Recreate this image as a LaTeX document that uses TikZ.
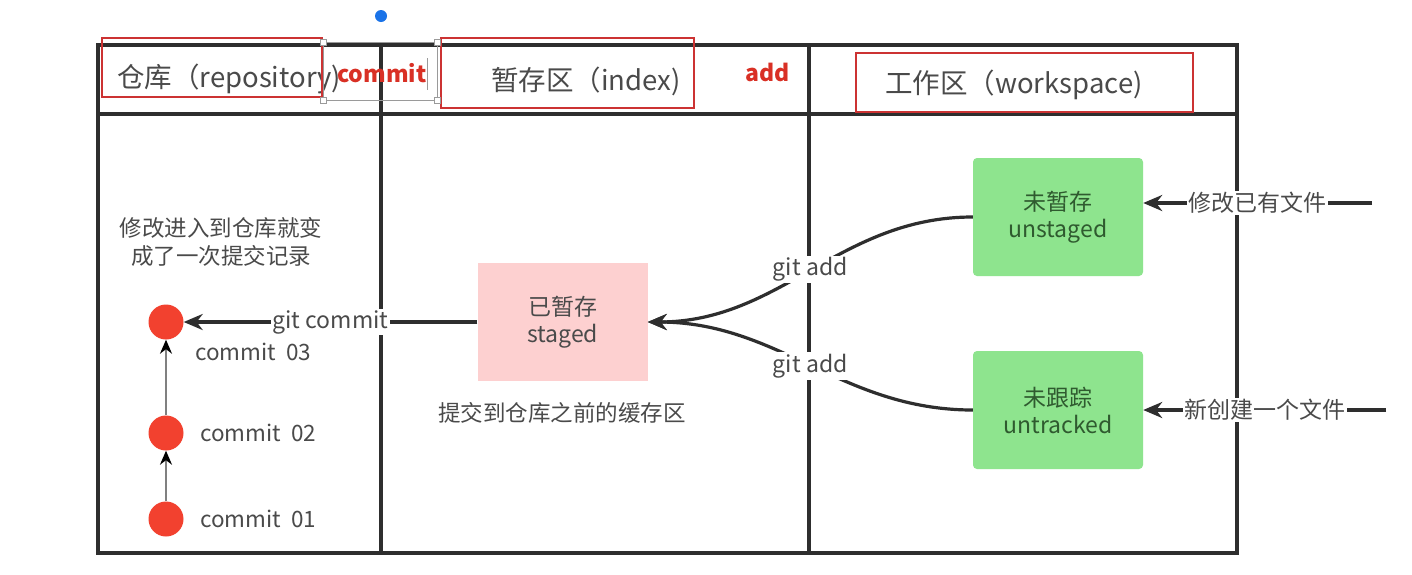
\documentclass[tikz,border=0pt]{standalone}
\usepackage{fontspec}
\setmainfont{Noto Sans CJK SC}
\usetikzlibrary{arrows.meta}
\definecolor{tline}{HTML}{2E2E2E}
\definecolor{redbox}{HTML}{CC3333}
\definecolor{redtxt}{HTML}{D93025}
\definecolor{cred}{HTML}{F2412F}
\definecolor{pinkfill}{HTML}{FDD0D0}
\definecolor{greenfill}{HTML}{8EE48E}
\definecolor{txt}{HTML}{4A4A4A}
\definecolor{gtxt}{HTML}{2F5A2F}
\definecolor{selgray}{HTML}{9A9A9A}
\definecolor{bluedot}{HTML}{1A73E8}
\tikzset{
  gridline/.style={line width=3.4pt, draw=tline},
  hdr/.style={font=\fontsize{27.5}{32}\selectfont, text=txt, inner sep=0pt},
  redlbl/.style={font=\bfseries\fontsize{23}{27}\selectfont, text=redtxt, inner sep=0pt},
  redframe/.style={line width=2.5pt, draw=redbox},
  lbl/.style={font=\fontsize{22.5}{28}\selectfont, text=txt, inner sep=0pt},
  lblbg/.style={font=\fontsize{23}{27}\selectfont, text=txt, fill=white, inner sep=1.5pt},
  arr/.style={line width=3.2pt, draw=tline, -{Stealth[length=19pt,width=16pt]}},
  chain/.style={line width=2pt, draw=gray, -{Stealth[length=14pt,width=12pt,color=black]}},
  dot/.style={circle, fill=cred, minimum size=35pt, inner sep=0pt},
  statebox/.style={minimum width=170pt, minimum height=118pt, align=center, inner sep=0pt,
     font=\fontsize{23}{27}\selectfont},
  pinkbox/.style={statebox, fill=pinkfill, text=txt},
  greenbox/.style={statebox, fill=greenfill, text=gtxt, rounded corners=4pt},
  handle/.style={draw=selgray, fill=white, line width=0.8pt, minimum size=6pt, inner sep=0pt}
}
\begin{document}
\begin{tikzpicture}[x=1pt,y=-1pt]
\useasboundingbox (0,0) rectangle (1412,574);
\fill[white] (0,0) rectangle (1412,574);
% table
\draw[gridline] (98,45) rectangle (1237,553);
\draw[gridline] (98,114) -- (1237,114);
\draw[gridline] (381,45) -- (381,553);
\draw[gridline] (809,45) -- (809,553);
% header texts
\node[hdr, anchor=west] (hrepo) at (117,79) {仓库（repository)};
\node[hdr, anchor=west] (hindex) at (491,81) {暂存区（index)};
\node[hdr, anchor=west] (hwork) at (885,85) {工作区（workspace)};
\node[redlbl, anchor=west] (rcommit) at (337,73) {commit};
\node[redlbl, anchor=west] (radd) at (745,72) {add};
% red annotation frames
\draw[redframe] (102,38) rectangle (322,97);
\draw[redframe] (441,38) rectangle (694,108);
\draw[redframe] (856,53) rectangle (1193,112);
% selection artefacts
\draw[selgray, line width=0.8pt] (323,42) rectangle (437,100);
\draw[selgray, line width=1pt] (427,58) -- (427,90);
\node[handle] (h1) at (323,42) {};
\node[handle] (h2) at (323,100) {};
\node[handle] (h3) at (437,42) {};
\node[handle] (h4) at (437,100) {};
\node[circle, fill=bluedot, minimum size=12pt, inner sep=0pt] (bd) at (381,16) {};
% repository column
\node[lbl, align=center] (note) at (221,242) {修改进入到仓库就变\\成了一次提交记录};
\node[dot] (c3) at (166,322) {};
\node[dot] (c2) at (166,433) {};
\node[dot] (c1) at (166,519) {};
\draw[chain] (c1) -- (c2);
\draw[chain] (c2) -- (c3);
\node[lbl, anchor=west] (l3) at (195,352) {commit\ \ 03};
\node[lbl, anchor=west] (l2) at (200,433) {commit\ \ 02};
\node[lbl, anchor=west] (l1) at (200,519) {commit\ \ 01};
% index column
\node[pinkbox] (staged) at (562.5,322) {已暂存\\staged};
\node[lbl] (stnote) at (562,413) {提交到仓库之前的缓存区};
\draw[arr] (staged.west) -- node[lblbg] {git commit} (c3.east);
% workspace column
\node[greenbox] (unstaged) at (1058,217) {未暂存\\unstaged};
\node[greenbox] (untracked) at (1058,410) {未跟踪\\untracked};
\draw[arr] (unstaged.west) to[out=180,in=0] node[lblbg, pos=0.5] {git add} (staged.east);
\draw[arr] (untracked.west) to[out=180,in=0] node[lblbg, pos=0.5] {git add} (staged.east);
\coordinate (src1) at (1372,203);
\coordinate (src2) at (1386,410);
\draw[arr] (src1) -- node[lblbg] {修改已有文件} (unstaged.east |- src1);
\draw[arr] (src2) -- node[lblbg] {新创建一个文件} (untracked.east);
\end{tikzpicture}
\end{document}
